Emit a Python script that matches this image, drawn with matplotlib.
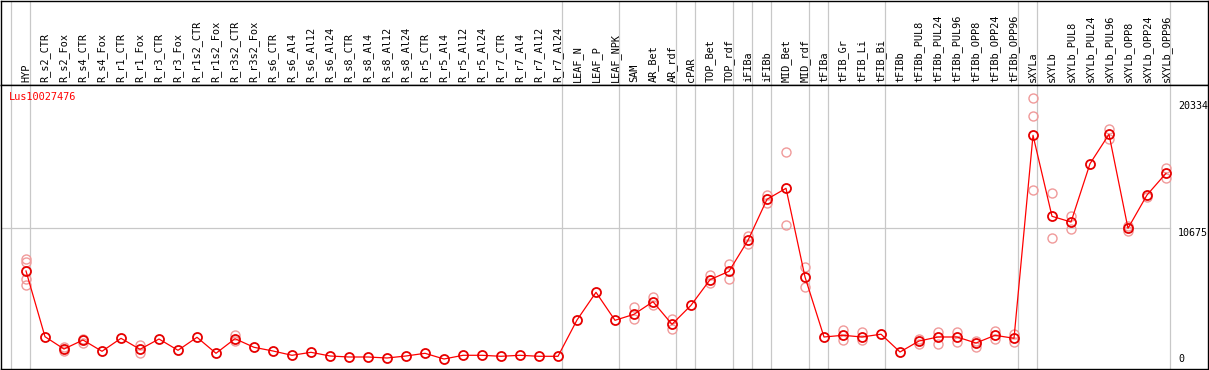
import matplotlib
matplotlib.use("Agg")
import matplotlib.pyplot as plt

samples = ["HYP", "R_s2_CTR", "R_s2_Fox", "R_s4_CTR", "R_s4_Fox", "R_r1_CTR", "R_r1_Fox",
           "R_r3_CTR", "R_r3_Fox", "R_r1s2_CTR", "R_r1s2_Fox", "R_r3s2_CTR", "R_r3s2_Fox",
           "R_s6_CTR", "R_s6_Al4", "R_s6_Al12", "R_s6_Al24", "R_s8_CTR", "R_s8_Al4",
           "R_s8_Al12", "R_s8_Al24", "R_r5_CTR", "R_r5_Al4", "R_r5_Al12", "R_r5_Al24",
           "R_r7_CTR", "R_r7_Al4", "R_r7_Al12", "R_r7_Al24", "LEAF_N", "LEAF_P", "LEAF_NPK",
           "SAM", "AR_Bet", "AR_rdf", "cPAR", "TOP_Bet", "TOP_rdf", "iFIBa", "iFIBb",
           "MID_Bet", "MID_rdf", "tFIBa", "tFIB_Gr", "tFIB_Li", "tFIB_Bi", "tFIBb",
           "tFIBb_PUL8", "tFIBb_PUL24", "tFIBb_PUL96", "tFIBb_OPP8", "tFIBb_OPP24",
           "tFIBb_OPP96", "sXYLa", "sXYLb", "sXYLb_PUL8", "sXYLb_PUL24", "sXYLb_PUL96",
           "sXYLb_OPP8", "sXYLb_OPP24", "sXYLb_OPP96"]

# mean expression per sample
means = [7415, 2418, 1483, 2167, 1308, 2297, 1460, 2243, 1384, 2373, 1156, 2266, 1612,
         1331, 1004, 1232, 951, 875, 875, 799, 951, 1156, 722, 1004, 1004, 928, 1004, 928,
         928, 3688, 5795, 3666, 4122, 5080, 3361, 4806, 6753, 7392, 9750, 12868, 13704,
         6959, 2396, 2525, 2396, 2608, 1255, 2091, 2396, 2396, 1939, 2525, 2297, 17735,
         11575, 11141, 15575, 17811, 10662, 13195, 14845]

# replicates that stand out from the mean
replicates = [[8365, 8137, 6844, 6388], [], [1612, 1331], [2243, 1962], [], [],
              [1810, 1202], [], [], [], [], [2570, 2069], [], [], [], [], [], [], [], [],
              [], [], [], [], [], [], [], [], [], [], [], [],
              [4677, 3787], [5460, 4829], [3742, 2981], [], [7111, 6479], [7924, 6784],
              [10077, 9445], [13172, 12563], [16442, 10890], [7719, 6175], [],
              [2905, 2145], [2753, 2145], [], [], [2266, 1886], [2799, 1886], [2799, 2015],
              [2091, 1658], [2875, 2221], [2647, 2015], [20549, 19180, 13552],
              [13324, 9902], [11598, 10586], [], [18191, 17476], [10837, 10457], [13042],
              [15248, 14465]]

gene = "Lus10027476"
tick_values = [20334, 10675]
group_ends = [-1, 0, 28, 31, 34, 35, 37, 38, 39, 41, 42, 45, 52, 53, 60]

W, H = 1209, 370
fig = plt.figure(figsize=(W / 100, H / 100), dpi=100)
xlim = ((1 - 26) / 19, (1208 - 26) / 19)

head = fig.add_axes([1 / W, (H - 85) / H, 1207 / W, 84 / H])
ax = fig.add_axes([1 / W, 1 / H, 1207 / W, (369 - 85) / H])

for a in (head, ax):
    a.set_xlim(*xlim)
    a.set_xticks([])
    a.set_yticks([])
    for s in a.spines.values():
        s.set_color("black")
        s.set_linewidth(1.0)
    for g in group_ends:
        a.axvline(g + 0.2, color="#c8c8c8", lw=0.9, zorder=0)

head.set_ylim(0, 1)
for i, name in enumerate(samples):
    head.text(i, 0.03, name, rotation=90, ha="center", va="bottom",
              family="DejaVu Sans Mono", fontsize=7.4)

ax.set_ylim(-38, 21560)
ax.plot([xlim[0], group_ends[-1] + 0.2], [tick_values[1]] * 2, color="#c8c8c8", lw=0.9, zorder=0)

for i, reps in enumerate(replicates):
    if reps:
        ax.plot([i] * len(reps), reps, "o", mfc="none", mec="#f09a9a", ms=6.5, mew=1.0, zorder=2)

x = list(range(len(means)))
ax.plot(x, means, "-", color="red", lw=0.9, zorder=3)
ax.plot(x, means, "o", mfc="none", mec="#e60000", ms=6.5, mew=1.3, zorder=4)

lx = (1178 - 26) / 19
for v in tick_values:
    ax.text(lx, v, str(v), ha="left", va="top", family="DejaVu Sans Mono", fontsize=7.2)
ax.annotate("0", (lx, 0), xytext=(0, 3), textcoords="offset points", ha="left", va="bottom",
            family="DejaVu Sans Mono", fontsize=7.2)

ax.text(8 / 1207, 1 - 12 / 284, gene, transform=ax.transAxes, color="red", ha="left",
        va="center", family="DejaVu Sans Mono", fontsize=7.4)

fig.savefig("out.png", dpi=100)
